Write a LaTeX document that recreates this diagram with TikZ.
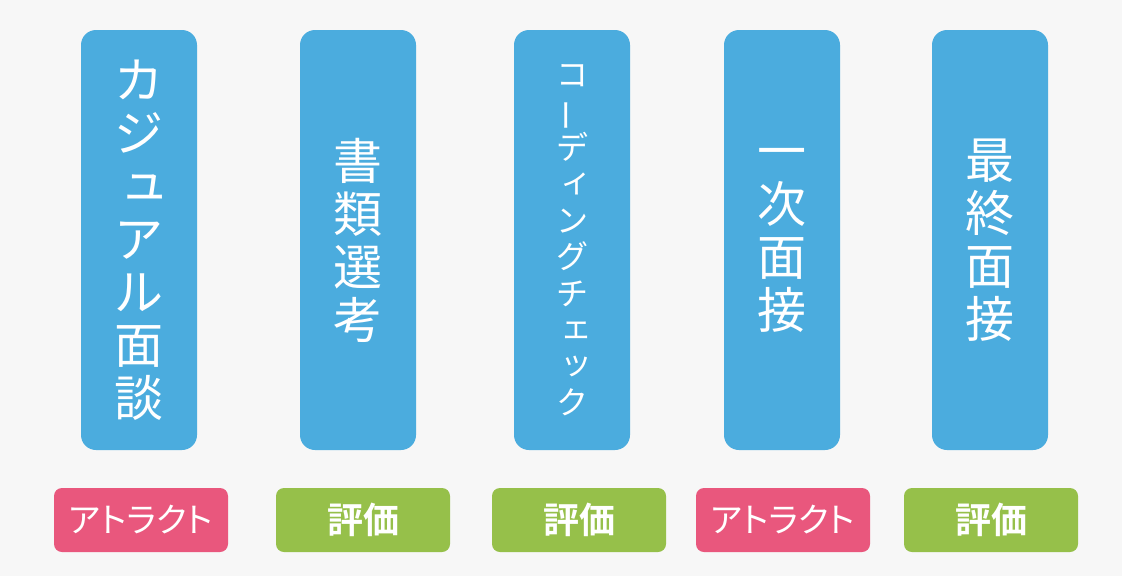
\documentclass[tikz,border=0pt]{standalone}
\usepackage{fontspec}
\newfontfamily\jpfont{Noto Sans CJK JP}
\newfontfamily\jppalt[RawFeature=+palt]{Noto Sans CJK JP}
\newfontfamily\jpbold{Noto Sans CJK JP Bold}
\newcommand{\chouon}{\rotatebox[origin=c]{90}{ー}}
\newcommand{\kogaki}[1]{\raisebox{0.1em}{\hspace*{0.25em}#1}}
\definecolor{stageblue}{HTML}{4BACDE}
\definecolor{attractpink}{HTML}{E9577D}
\definecolor{evalgreen}{HTML}{96C04A}
\definecolor{pagegray}{HTML}{F7F7F7}
\begin{document}
\begin{tikzpicture}[x=1pt,y=-1pt,
  stagebox/.style={fill=stageblue,rounded corners=15pt,
    minimum width=116pt,minimum height=420pt,inner sep=0pt,text=white,
    align=center,font=\jpfont\fontsize{49}{53}\selectfont},
  stagesmall/.style={stagebox,font=\jpfont\fontsize{32}{36.5}\selectfont},
  tagbox/.style={rounded corners=8pt,minimum width=174pt,minimum height=64pt,
    inner sep=0pt,text=white},
  attract/.style={tagbox,fill=attractpink,font=\jppalt\fontsize{34}{34}\selectfont},
  evaluate/.style={tagbox,fill=evalgreen,font=\jpbold\fontsize{36}{36}\selectfont}]
  \fill [pagegray] (0,0) rectangle (1122,576);
  \useasboundingbox (0,0) rectangle (1122,576);
  % stages
  \node [stagebox] (casual) at (139,240) {カ\\ジ\\\kogaki{ュ}\\ア\\ル\\面\\談};
  \node [stagebox] (shorui) at (358,240) {書\\類\\選\\考};
  \node [stagesmall] (coding) at (572,240)
    {コ\\\chouon\\デ\\\kogaki{ィ}\\ン\\グ\\チ\\\kogaki{ェ}\\\kogaki{ッ}\\ク};
  \node [stagebox] (first) at (782,240) {一\\次\\面\\接};
  \node [stagebox] (final) at (990,240) {最\\終\\面\\接};
  % tags
  \node [attract] (casualtag) at (141,520) {アトラクト};
  \node [evaluate] (shoruitag) at (363,520) {評価};
  \node [evaluate] (codingtag) at (579,520) {評価};
  \node [attract] (firsttag) at (783,520) {アトラクト};
  \node [evaluate] (finaltag) at (991,520) {評価};
\end{tikzpicture}
\end{document}
